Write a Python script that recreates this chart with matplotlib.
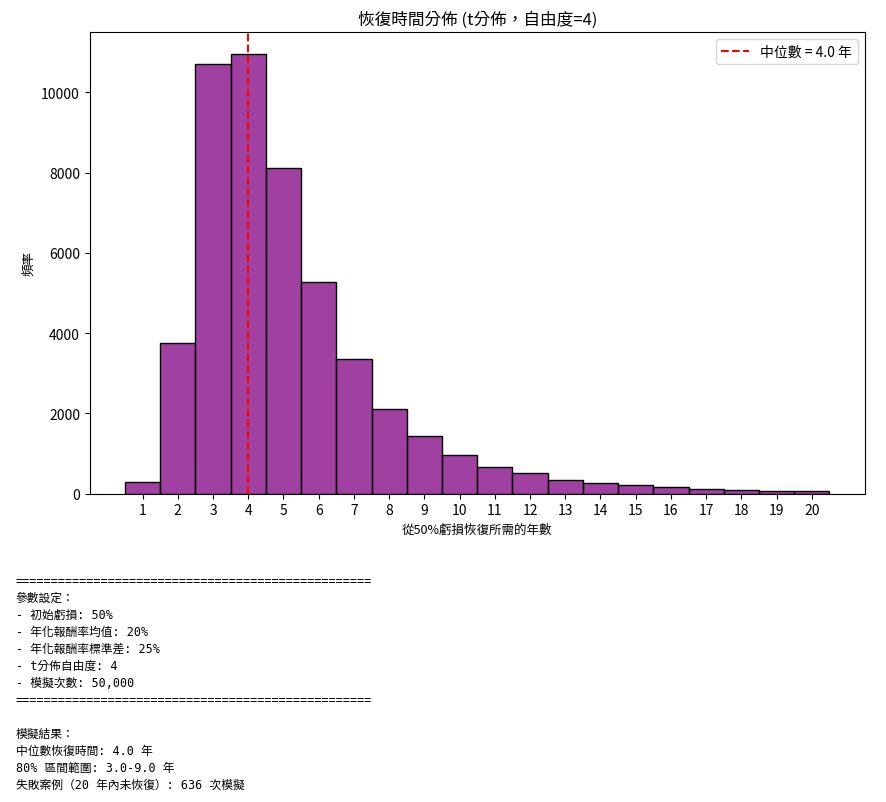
import matplotlib
matplotlib.use("Agg")
import matplotlib.pyplot as plt
import numpy as np

plt.rcParams['font.family'] = ['Noto Sans CJK TC', 'DejaVu Sans']

years = list(range(1, 21))
counts = [290, 3756, 10697, 10945, 8109, 5274, 3358, 2114, 1443, 970,
          672, 522, 348, 274, 224, 174, 124, 100, 75, 75]
median_years = 4.0
legend_label = "中位數 = 4.0 年"
title = "恢復時間分佈 (t分佈，自由度=4)"
xlabel = "從50%虧損恢復所需的年數"
ylabel = "頻率"

info_lines = [
    "=" * 50,
    "參數設定：",
    "- 初始虧損: 50%",
    "- 年化報酬率均值: 20%",
    "- 年化報酬率標準差: 25%",
    "- t分佈自由度: 4",
    "- 模擬次數: 50,000",
    "=" * 50,
    "",
    "模擬結果：",
    "中位數恢復時間: 4.0 年",
    "80% 區間範圍: 3.0-9.0 年",
    "失敗案例（20 年內未恢復）: 636 次模擬",
]

fig = plt.figure(figsize=(8.87, 8.03), dpi=100)
ax = fig.add_axes([89.7/887, 1-494.7/803, (864.7-89.7)/887, (494.7-33.3)/803])

ax.bar(years, counts, width=1.0, color=(0.5, 0, 0.5, 0.75),
       edgecolor='black', linewidth=1.0)
ax.axvline(median_years, color='red', linestyle='--', linewidth=1.5, label=legend_label)

ax.set_xlim(-0.5, 21.5)
ax.set_ylim(0, max(counts) * 1.05)
ax.set_xticks(years)
ax.set_yticks(np.arange(0, 10001, 2000))
ax.tick_params(labelsize=10)
ax.set_title(title, fontsize=12)
ax.set_xlabel(xlabel, fontsize=9)
ax.set_ylabel(ylabel, fontsize=9)
ax.legend(loc='upper right', fontsize=10)

y0 = 581.7
dy = 16.97
for i, line in enumerate(info_lines):
    if line:
        fig.text(16/887, 1 - (y0 + i * dy)/803, line, fontsize=8.5,
                 family=['DejaVu Sans Mono', 'Noto Sans CJK TC'],
                 va='center', ha='left')

fig.savefig("out.png", dpi=100)
